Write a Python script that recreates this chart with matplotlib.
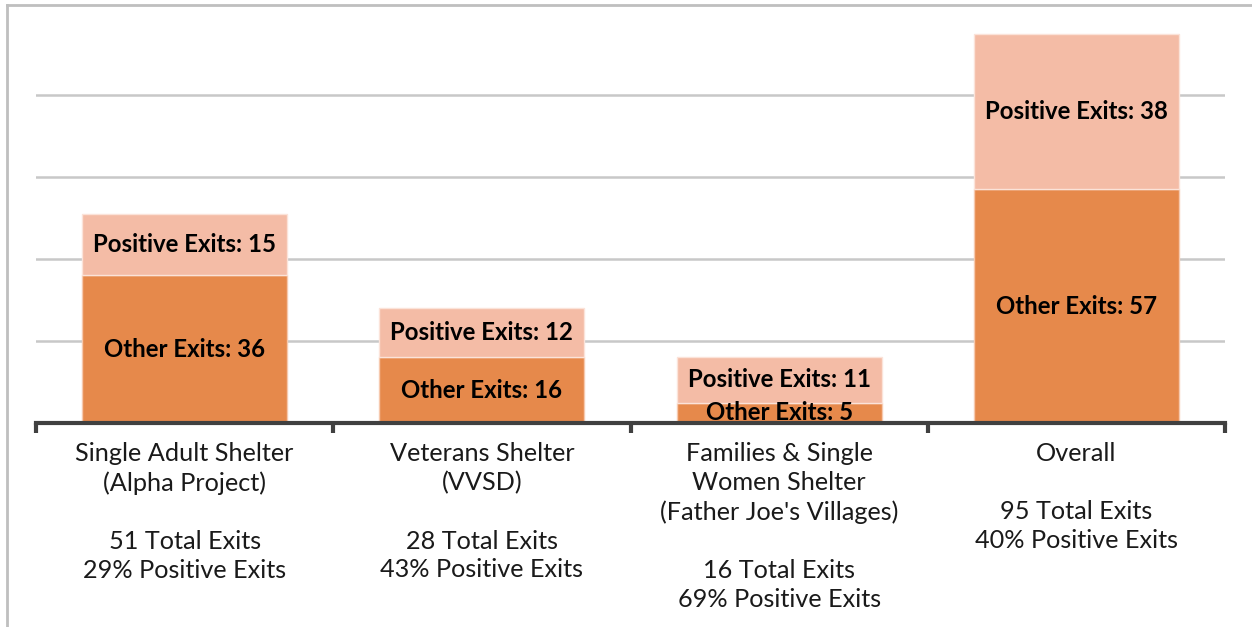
import matplotlib.pyplot as plt
import numpy as np

# ==== Dados ====
categorias = [
    "Single Adult Shelter\n(Alpha Project)\n\n51 Total Exits\n29% Positive Exits",
    "Veterans Shelter\n(VVSD)\n\n28 Total Exits\n43% Positive Exits",
    "Families & Single\nWomen Shelter\n(Father Joe's Villages)\n\n16 Total Exits\n69% Positive Exits",
    "Overall\n\n95 Total Exits\n40% Positive Exits",
]
other_exits = [36, 16, 5, 57]
positive_exits = [15, 12, 11, 38]

COR_OTHER = "#E6894B"
COR_POS = "#F4BCA6"

plt.rcParams["font.family"] = ["Lato", "DejaVu Sans"]

fig = plt.figure(figsize=(12.52, 6.27), dpi=100)
ax = fig.add_axes([36 / 1252, (627 - 423) / 627, (1225 - 36) / 1252, 410 / 627])

x = np.arange(len(categorias))
ax.bar(x, other_exits, width=0.69, color=COR_OTHER, edgecolor="#F6C9AE", linewidth=1, zorder=2)
ax.bar(x, positive_exits, width=0.69, bottom=other_exits, color=COR_POS,
       edgecolor="#FBE3D9", linewidth=1, zorder=2)

for xi, o, p in zip(x, other_exits, positive_exits):
    ax.text(xi, o / 2, f"Other Exits: {o}", ha="center", va="center",
            fontsize=17.3, fontweight="bold", zorder=3)
    ax.text(xi, o + p / 2, f"Positive Exits: {p}", ha="center", va="center",
            fontsize=17.3, fontweight="bold", zorder=3)

ax.set_xlim(-0.5, len(categorias) - 0.5)
ax.set_ylim(0, 100)

# grade
ax.set_yticks([20, 40, 60, 80])
ax.yaxis.grid(True, color="#C8C8C8", linewidth=1.8, zorder=0)
ax.tick_params(axis="y", length=0, labelleft=False)

# eixo x: rótulos no centro, marcas nas fronteiras
ax.set_xticks(x)
ax.set_xticklabels(categorias, fontsize=18.2, linespacing=1.31, va="top", color="#1A1A1A")
ax.tick_params(axis="x", which="major", length=0, pad=14)
ax.set_xticks(np.arange(-0.5, len(categorias)), minor=True)
ax.tick_params(axis="x", which="minor", length=7, width=3, color="#404040", direction="out")

for s in ["top", "right", "left"]:
    ax.spines[s].set_visible(False)
ax.spines["bottom"].set_color("#404040")
ax.spines["bottom"].set_linewidth(3)
ax.spines["bottom"].set_zorder(4)

# moldura da imagem
fig.add_artist(plt.Line2D([7 / 1252, 7 / 1252], [0, 1 - 5 / 627], color="#BFBFBF", linewidth=2))
fig.add_artist(plt.Line2D([7 / 1252, 1], [1 - 5 / 627, 1 - 5 / 627], color="#BFBFBF", linewidth=2))

fig.savefig("out.png", dpi=100)
